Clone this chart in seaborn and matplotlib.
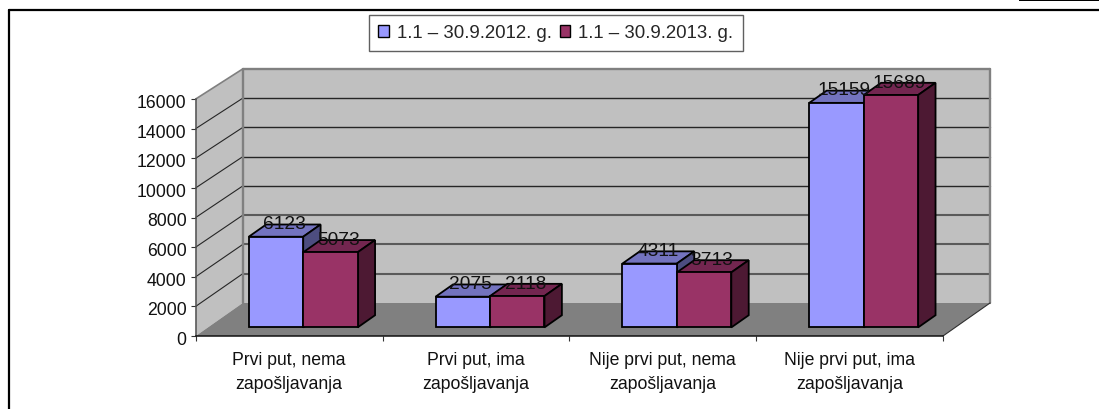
import numpy as np
import pandas as pd
import matplotlib
matplotlib.use("Agg")
import matplotlib.pyplot as plt
from matplotlib.patches import Patch, Polygon, Rectangle
from matplotlib.lines import Line2D
from matplotlib.transforms import Affine2D
import seaborn as sns

categories = ["Prvi put, nema\nzapošljavanja", "Prvi put, ima\nzapošljavanja",
              "Nije prvi put, nema\nzapošljavanja", "Nije prvi put, ima\nzapošljavanja"]
series_names = ["1.1 – 30.9.2012. g.", "1.1 – 30.9.2013. g."]
values_2012 = [6123, 2075, 4311, 15159]
values_2013 = [5073, 2118, 3713, 15689]
y_ticks = [0, 2000, 4000, 6000, 8000, 10000, 12000, 14000, 16000]

W, H = 1099, 410
FRONT_L, FRONT_R, FRONT_TOP, FRONT_BOT = 195.7, 943.0, 100.0, 337.0
FLOOR_DX, FLOOR_DY = 47.0, 33.0      # depth of the floor, pixels
BAR_TX, BAR_TY, BAR_DEPTH = 0.30, 0.26, 0.37  # bar start and depth, fractions of floor depth
BACK_SCALE = 0.9875
COLORS = ["#9999FF", "#993366"]
TOPS = ["#7373BF", "#732650"]
SIDES = ["#4D4D80", "#4D1933"]
FONT = 12.7
LABEL_FONT = 13.8
LEGEND_FONT = 13.4

sns.set_style("white")
plt.rcParams["font.family"] = ["Liberation Sans", "DejaVu Sans"]

df = pd.DataFrame({
    "cat": categories * 2,
    "series": [series_names[0]] * 4 + [series_names[1]] * 4,
    "value": values_2012 + values_2013,
})

fig = plt.figure(figsize=(W / 100, H / 100), dpi=100, facecolor="white")
ax = fig.add_axes([FRONT_L / W, 1 - FRONT_BOT / H,
                   (FRONT_R - FRONT_L) / W, (FRONT_BOT - FRONT_TOP) / H])
sns.barplot(data=df, x="cat", y="value", hue="series", hue_order=series_names,
            palette=COLORS, width=0.583, gap=0, saturation=1, legend=False,
            edgecolor="black", linewidth=1.3, ax=ax, zorder=3)
ax.set_xlim(-0.5, 3.5)
ax.set_ylim(0, 16000)
ax.set_xlabel("")
ax.set_ylabel("")
ax.patch.set_visible(False)

px_x = 4 / (FRONT_R - FRONT_L)
px_y = 16000 / (FRONT_BOT - FRONT_TOP)
dx = FLOOR_DX * px_x
dy = FLOOR_DY * px_y


def back(x, v):
    return (x + dx, v * BACK_SCALE + dy)


x0, x1 = ax.get_xlim()
wall_kw = dict(clip_on=False, zorder=0.5, linewidth=0)
ax.add_patch(Polygon([back(x0, 0), back(x1, 0), back(x1, 16000), back(x0, 16000)],
                     facecolor="#C0C0C0", **wall_kw))
ax.add_patch(Polygon([(x0, 0), back(x0, 0), back(x0, 16000), (x0, 16000)],
                     facecolor="#C0C0C0", **wall_kw))
ax.add_patch(Polygon([(x0, 0), (x1, 0), back(x1, 0), back(x0, 0)],
                     facecolor="#808080", **wall_kw))

line_kw = dict(clip_on=False, zorder=1)
for i, v in enumerate(y_ticks[1:-1]):
    grid_col = "#5A5A5A" if v <= 6000 else "#262626"
    grid_lw = 1.5 if v <= 6000 else 1.0
    bx0, by0 = back(x0, v)
    bx1, by1 = back(x1, v)
    ax.plot([bx0, bx1], [by0, by1], color=grid_col, lw=grid_lw, **line_kw)
    ax.plot([x0, bx0], [v, by0], color="#262626", lw=0.8, **line_kw)
for a, b in [(back(x0, 0), back(x0, 16000)), (back(x0, 16000), back(x1, 16000)),
             (back(x1, 16000), back(x1, 0))]:
    ax.plot([a[0], b[0]], [a[1], b[1]], color="#808080", lw=1.7, **line_kw)
ax.plot([x0, back(x0, 16000)[0]], [16000, back(x0, 16000)[1]], color="#808080", lw=1.2, **line_kw)
ax.plot([x1, back(x1, 0)[0]], [0, back(x1, 0)[1]], color="#303030", lw=0.8, **line_kw)

# extrude the seaborn bars into boxes
shift_x, shift_y = BAR_TX * dx, BAR_TY * dy
bdx, bdy = BAR_DEPTH * dx, BAR_DEPTH * dy
for h, container in enumerate(ax.containers):
    z = 3 + 2 * h
    for bar in container:
        bar.set_x(bar.get_x() + shift_x)
        bar.set_y(shift_y)
        bar.set_clip_on(False)
        bar.set_zorder(z + 1)
        a, b = bar.get_x(), bar.get_x() + bar.get_width()
        low, top = shift_y, shift_y + bar.get_height()
        ax.add_patch(Polygon([(a, top), (b, top), (b + bdx, top + bdy), (a + bdx, top + bdy)],
                             facecolor=TOPS[h], edgecolor="black", linewidth=1.3,
                             clip_on=False, zorder=z))
        ax.add_patch(Polygon([(b, low), (b + bdx, low + bdy), (b + bdx, top + bdy), (b, top)],
                             facecolor=SIDES[h], edgecolor="black", linewidth=1.3,
                             clip_on=False, zorder=z))
        ax.text((a + b) / 2 + 8 * px_x, top + 13 * px_y, f"{bar.get_height():.0f}",
                ha="center", va="center", fontsize=LABEL_FONT, color="#111111",
                zorder=10, clip_on=False)

# axes
sns.despine(ax=ax, top=True, right=True)
ax.spines["left"].set_color("#505050")
ax.spines["left"].set_linewidth(1.1)
ax.spines["left"].set_zorder(1.5)
ax.spines["bottom"].set_color("#111111")
ax.spines["bottom"].set_linewidth(1.1)
ax.set_yticks(y_ticks)
ax.set_yticklabels([str(v) for v in y_ticks])
ax.tick_params(axis="y", length=5.5 * 0.72, width=0.8, color="#333333", pad=2.5,
               labelsize=FONT, labelcolor="#111111", left=True)
for label in ax.get_yticklabels():
    label.set_transform(label.get_transform() + Affine2D().translate(0, -1.5))
ax.set_xticks(np.arange(len(categories) + 1) - 0.5)
ax.set_xticklabels([""] * (len(categories) + 1))
ax.tick_params(axis="x", which="major", length=3.5, width=0.8, color="#333333", bottom=True)
ax.set_xticks(np.arange(len(categories)), minor=True)
ax.set_xticklabels(categories, minor=True, fontsize=FONT, color="#111111", linespacing=1.52)
ax.tick_params(axis="x", which="minor", length=0, pad=11)

# legend
handles = [Patch(facecolor=c, edgecolor="black", linewidth=1.0, label=n)
           for c, n in zip(COLORS, series_names)]
fig.legend(handles=handles, loc="upper left", bbox_to_anchor=(369 / W, 1 - 16 / H),
           ncol=2, frameon=True, fancybox=False, framealpha=1, edgecolor="#606060",
           fontsize=LEGEND_FONT, handlelength=0.55, handleheight=0.6, handletextpad=0.44,
           columnspacing=0.44, borderpad=0.5, borderaxespad=0)

# page frame
fig.add_artist(Line2D([8.5 / W, 8.5 / W], [0, 1 - 11 / H], color="black", lw=1.6))
fig.add_artist(Line2D([8.5 / W, 1], [1 - 11 / H, 1 - 11 / H], color="black", lw=1.6))
fig.add_artist(Rectangle((1019 / W, 1 - 2 / H), 80 / W, 2 / H, transform=fig.transFigure,
                         facecolor="black", edgecolor="none"))

fig.savefig("out.png", dpi=100)
